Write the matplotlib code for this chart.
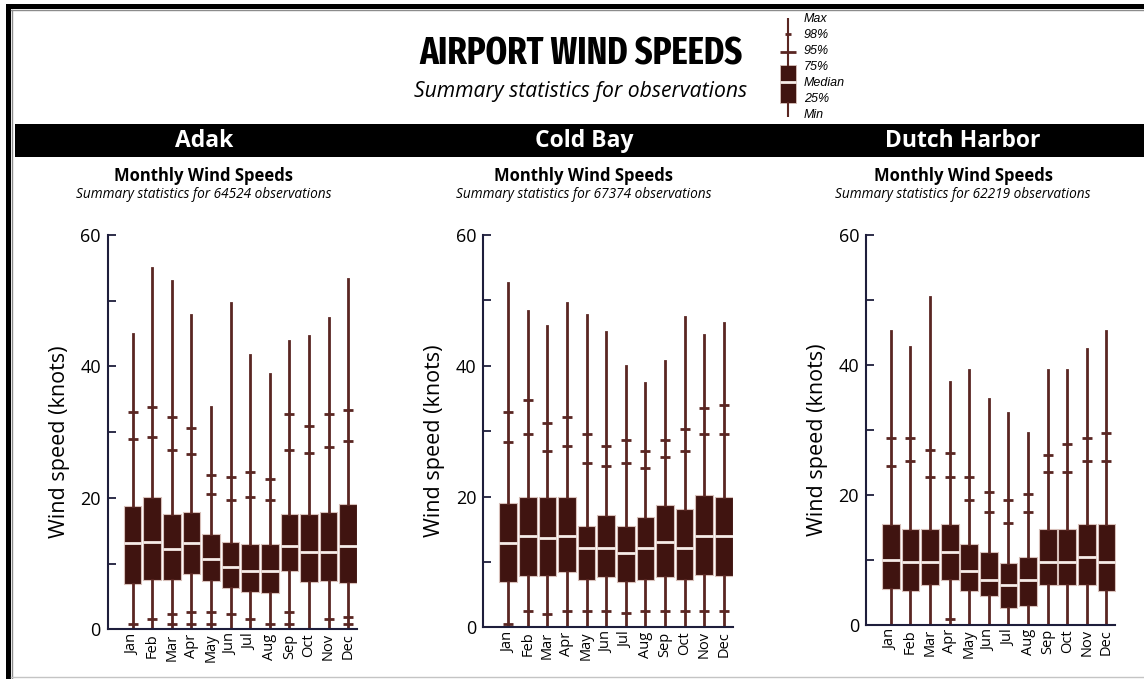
import numpy as np
import matplotlib
matplotlib.use("Agg")
import matplotlib.pyplot as plt
from matplotlib.patches import Rectangle

W, H = 1144, 679

months = ['Jan', 'Feb', 'Mar', 'Apr', 'May', 'Jun',
          'Jul', 'Aug', 'Sep', 'Oct', 'Nov', 'Dec']
stations = ['Adak', 'Cold Bay', 'Dutch Harbor']
n_obs = [64524, 67374, 62219]

# monthly summary statistics (knots), one row per station
max_speed = np.array([
    [44.9, 55.0, 53.0, 47.8, 33.8, 49.6, 41.7, 38.8, 43.9, 44.6, 47.3, 53.3],
    [52.7, 48.3, 46.1, 49.6, 47.8, 45.2, 40.0, 37.3, 40.8, 47.4, 44.7, 46.6],
    [45.2, 42.7, 50.5, 37.4, 39.2, 34.8, 32.6, 29.6, 39.2, 39.2, 42.5, 45.2],
])
p98 = np.array([
    [33.0, 33.9, 32.3, 30.7, 23.5, 23.2, 24.0, 22.9, 32.7, 31.0, 32.8, 33.3],
    [33.0, 34.8, 31.3, 32.1, 29.5, 27.8, 28.7, 27.0, 28.7, 30.4, 33.5, 34.0],
    [28.7, 28.7, 27.0, 26.4, 22.7, 20.4, 19.2, 20.1, 26.2, 27.9, 28.7, 29.6],
])
p95 = np.array([
    [29.0, 29.3, 27.3, 26.7, 20.6, 19.7, 20.1, 19.7, 27.3, 26.9, 27.8, 28.7],
    [28.4, 29.5, 27.0, 27.8, 25.2, 24.7, 25.2, 24.3, 26.1, 27.0, 29.5, 29.5],
    [24.4, 25.3, 22.7, 22.7, 19.2, 17.4, 15.7, 17.4, 23.5, 23.5, 25.3, 25.3],
])
q3 = np.array([
    [18.8, 20.2, 17.5, 17.9, 14.5, 13.3, 13.0, 13.0, 17.5, 17.5, 17.9, 19.1],
    [19.0, 19.9, 19.9, 19.9, 15.5, 17.1, 15.5, 16.8, 18.7, 18.1, 20.3, 19.9],
    [15.6, 14.7, 14.7, 15.6, 12.5, 11.3, 9.5, 10.4, 14.7, 14.7, 15.6, 15.6],
])
median = np.array([
    [13.1, 13.3, 12.2, 13.1, 10.7, 9.5, 8.8, 8.8, 12.7, 11.8, 11.7, 12.7],
    [12.9, 13.9, 13.6, 13.9, 12.1, 12.1, 11.3, 12.1, 13.0, 12.1, 13.9, 13.9],
    [10.0, 9.7, 9.7, 11.3, 8.3, 7.0, 6.1, 7.0, 9.7, 9.7, 10.4, 9.7],
])
q1 = np.array([
    [6.9, 7.5, 7.5, 8.4, 7.3, 6.3, 5.6, 5.5, 8.8, 7.2, 7.3, 7.0],
    [6.9, 7.8, 7.8, 8.5, 7.3, 7.7, 6.9, 7.3, 7.7, 7.3, 8.0, 7.8],
    [5.6, 5.3, 6.1, 7.0, 5.3, 4.4, 2.6, 2.9, 6.1, 6.1, 6.1, 5.3],
])
p5 = np.array([
    [0.8, 1.5, 2.3, 2.6, 2.6, 2.3, 1.5, 0.8, 2.6, 0.0, 1.5, 1.8],
    [0.5, 2.5, 2.0, 2.5, 2.5, 2.5, 2.2, 2.5, 2.5, 2.5, 2.5, 2.5],
    [0.0, 0.0, 0.0, 0.9, 0.0, 0.0, 0.0, 0.0, 0.0, 0.0, 0.0, 0.0],
])
p2 = np.array([
    [0.0, 0.0, 0.8, 0.8, 0.8, 0.0, 0.0, 0.0, 0.8, 0.0, 0.0, 0.8],
    [0.0, 0.0, 0.0, 0.0, 0.0, 0.0, 0.0, 0.0, 0.0, 0.0, 0.0, 0.0],
    [0.0, 0.0, 0.0, 0.0, 0.0, 0.0, 0.0, 0.0, 0.0, 0.0, 0.0, 0.0],
])
min_speed = np.zeros((3, 12))

# key values for the little legend glyph (arbitrary 0-100 scale)
key_labels = ['Max', '98%', '95%', '75%', 'Median', '25%', 'Min']
key_vals = dict(max=100, p98=84, p95=66, q3=52.5, med=35.4, q1=14, min=0)

BOX = '#401410'
WHISK = '#5a2622'
EDGE = '#d8c0ba'
SPINE = '#1e1e3c'

SANS = ['Open Sans', 'DejaVu Sans']
CONDENSED = ['Fira Sans Extra Condensed', 'Open Sans Condensed', 'DejaVu Sans']


def fx(x):
    return x / W


def fy(y):
    return 1 - y / H


fig = plt.figure(figsize=(W / 100, H / 100), dpi=100)
fig.patch.set_facecolor('white')

# frame
fig.add_artist(Rectangle((fx(6), fy(9)), fx(W - 6), 5 / H, transform=fig.transFigure,
                         facecolor='black', edgecolor='none'))
fig.add_artist(Rectangle((fx(6), 0), 5 / W, fy(4), transform=fig.transFigure,
                         facecolor='black', edgecolor='none'))
fig.add_artist(plt.Line2D([fx(11), 1], [fy(9.8), fy(9.8)], transform=fig.transFigure,
                          color='#8c8c8c', lw=1))
fig.add_artist(plt.Line2D([fx(11.8), fx(11.8)], [0, fy(9.8)], transform=fig.transFigure,
                          color='#8c8c8c', lw=1))
fig.add_artist(plt.Line2D([fx(11), 1], [fy(677), fy(677)], transform=fig.transFigure,
                          color='#c4c4c4', lw=1))

# headline
fig.text(fx(581), fy(54), 'AIRPORT WIND SPEEDS', family=CONDENSED, weight='bold',
         fontsize=27, ha='center', va='center')
fig.text(fx(581), fy(91), 'Summary statistics for observations', family=SANS,
         style='italic', fontsize=15.2, ha='center', va='center')

# station banner
fig.add_artist(Rectangle((fx(15), fy(157)), 1 - fx(15), 33 / H, transform=fig.transFigure,
                         facecolor='black', edgecolor='none'))

centers = [204, 584, 963]
axes_left = [107.7, 483.3, 866]
axes_bottom = [629.3, 627.3, 625]
axes_top = 235

x = np.arange(12)

for i, name in enumerate(stations):
    fig.text(fx(centers[i]), fy(141), name, family=SANS, weight='bold',
             fontsize=16.5, color='white', ha='center', va='center')
    fig.text(fx(centers[i]), fy(176), 'Monthly Wind Speeds', family=SANS,
             weight='bold', fontsize=12, ha='center', va='center')
    fig.text(fx(centers[i]), fy(194), f'Summary statistics for {n_obs[i]} observations',
             family=SANS, style='italic', fontsize=9.8, ha='center', va='center')

    ax = fig.add_axes([fx(axes_left[i]), fy(axes_bottom[i]), 249.5 / W,
                       (axes_bottom[i] - axes_top) / H])

    stats = [dict(med=median[i, m], q1=q1[i, m], q3=q3[i, m],
                  whislo=min_speed[i, m], whishi=max_speed[i, m], label=months[m])
             for m in range(12)]
    ax.bxp(stats, positions=x, widths=0.9, patch_artist=True, showcaps=False,
           showfliers=False,
           boxprops=dict(facecolor=BOX, edgecolor=EDGE, linewidth=0.8),
           medianprops=dict(color='#f6ece8', linewidth=2),
           whiskerprops=dict(color=WHISK, linewidth=2))

    for level in (p98, p95, p5, p2):
        ax.plot(x, level[i], ls='none', marker='_', ms=7.5, mew=2, color=WHISK,
                zorder=1.5)

    ax.set_xlim(-1.27, 11.46)
    ax.set_ylim(0, 60)
    ax.set_yticks(np.arange(0, 61, 10))
    ax.set_yticklabels([str(v) if v % 20 == 0 else '' for v in range(0, 61, 10)])
    ax.set_xticks(x)
    ax.set_xticklabels(months, rotation=90, family=SANS, fontsize=10.5)
    ax.tick_params(axis='x', length=0, pad=3)
    ax.tick_params(axis='y', direction='in', length=6, width=1.3, color=SPINE,
                   pad=5, labelsize=13)
    for lab in ax.get_yticklabels():
        lab.set_family(SANS)
    ax.set_ylabel('Wind speed (knots)', family=SANS, fontsize=15.5)
    ax.yaxis.set_label_coords(-0.152, 0.475)

    for side in ('top', 'right'):
        ax.spines[side].set_visible(False)
    for side in ('left', 'bottom'):
        ax.spines[side].set_color(SPINE)
        ax.spines[side].set_linewidth(1.5)
        ax.spines[side].set_zorder(5)
    ax.spines['bottom'].set_bounds(-1.27, 11.45)
    ax.patch.set_alpha(0)

# legend glyph
kax = fig.add_axes([fx(770), fy(117), 36 / W, 99 / H])
kax.set_xlim(-1, 1)
kax.set_ylim(0, 100)
kax.axis('off')
kax.bxp([dict(med=key_vals['med'], q1=key_vals['q1'], q3=key_vals['q3'],
              whislo=key_vals['min'], whishi=key_vals['max'])],
        positions=[0], widths=0.9, patch_artist=True, showcaps=False,
        showfliers=False,
        boxprops=dict(facecolor=BOX, edgecolor=EDGE, linewidth=0.6),
        medianprops=dict(color='#f6ece8', linewidth=2),
        whiskerprops=dict(color=WHISK, linewidth=1.5))
kax.plot([0], [key_vals['p98']], marker='_', ms=4, mew=2, color=WHISK)
kax.plot([0], [key_vals['p95']], marker='_', ms=12, mew=2, color=WHISK)
label_y = [19, 35, 51, 67, 83, 99, 115]
for lab, yy in zip(key_labels, label_y):
    fig.text(fx(804), fy(yy), lab, family=['Liberation Sans', 'DejaVu Sans'],
             style='italic', fontsize=9, ha='left', va='center')

fig.savefig('out.png', dpi=100)
